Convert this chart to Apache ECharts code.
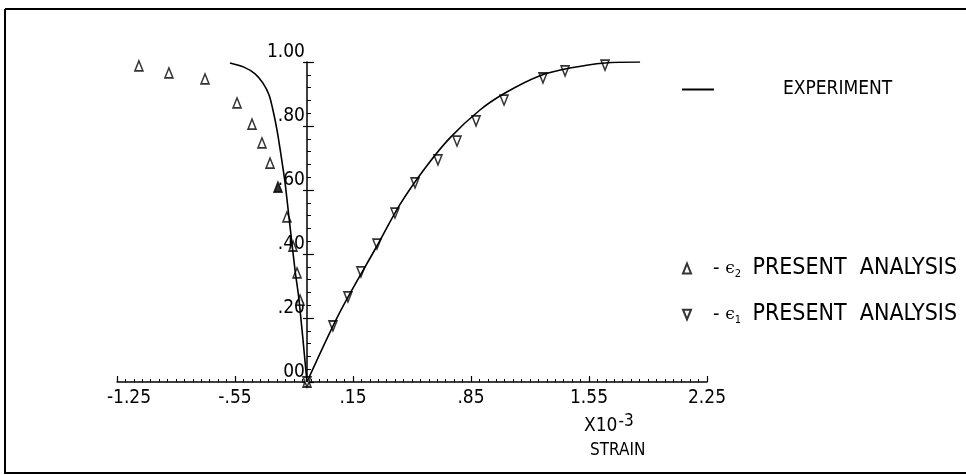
<!DOCTYPE html>
<html>
<head>
<meta charset="utf-8">
<script src="https://cdn.jsdelivr.net/npm/echarts@6/dist/echarts.min.js"></script>
<style>
  html, body { margin: 0; padding: 0; background: #fff; }
  #chart { width: 966px; height: 475px; }
</style>
</head>
<body>
<div id="chart"></div>
<script>
// Stress ratio vs strain (x10^-3)
const xTickLabels = ['-1.25', '-.55', '.15', '.85', '1.55', '2.25'];
const yTickLabels = ['00', '.20', '.40', '.60', '.80', '1.00'];

// Experimental curve, lateral strain branch (e2)
const expE2 = [
  [-0.58, 0.997], [-0.497, 0.984], [-0.431, 0.963], [-0.384, 0.934],
  [-0.348, 0.897], [-0.325, 0.85], [-0.301, 0.788], [-0.277, 0.709],
  [-0.253, 0.622], [-0.23, 0.516], [-0.194, 0.35], [-0.17, 0.256],
  [-0.123, 0]
];
// Experimental curve, axial strain branch (e1)
const expE1 = [
  [-0.123, 0], [0.073, 0.219], [0.292, 0.425], [0.429, 0.555],
  [0.577, 0.668], [0.725, 0.763], [0.903, 0.85], [1.052, 0.903],
  [1.259, 0.957], [1.437, 0.981], [1.645, 0.997], [1.853, 1.0]
];
// Present analysis, e2
const anaE2 = [
  [-1.12, 0.988], [-0.942, 0.966], [-0.728, 0.947], [-0.538, 0.872],
  [-0.449, 0.806], [-0.39, 0.747], [-0.342, 0.684], [-0.295, 0.609],
  [-0.242, 0.516], [-0.206, 0.425], [-0.182, 0.341], [-0.164, 0.256],
  [-0.123, 0]
];
// Present analysis, e1
const anaE1 = [
  [-0.123, 0], [0.031, 0.175], [0.12, 0.266], [0.197, 0.344],
  [0.292, 0.431], [0.399, 0.528], [0.518, 0.622], [0.654, 0.694],
  [0.767, 0.753], [0.88, 0.816], [1.046, 0.881], [1.277, 0.95],
  [1.408, 0.972], [1.645, 0.99]
];

const FONT = '"DejaVu Sans Condensed", "DejaVu Sans", sans-serif';
const INK = '#000';

const xMin = -1.25, xMax = 2.25, xStep = 0.7;
const yStep = 0.2;
const yAxisAt = -0.123;   // strain value where the vertical axis crosses

const gridLeft = 117, gridRight = 259, gridTop = 62, gridBottom = 93;
const plotW = 966 - gridLeft - gridRight;
const yAxisOffset = -(yAxisAt - xMin) / (xMax - xMin) * plotW;

function xLabel(v) {
  const i = Math.round((v - xMin) / xStep);
  if (xTickLabels[i] === undefined) return '';
  return i === 0 ? '{first|' + xTickLabels[i] + '}' : xTickLabels[i];
}
function yLabel(v) {
  const i = Math.round(v / yStep);
  return yTickLabels[i] !== undefined ? yTickLabels[i] : '';
}

const chart = echarts.init(document.getElementById('chart'), null, { renderer: 'canvas' });

const triStyle = { color: '#fff', borderColor: INK, borderWidth: 1.6 };
const downTri = 'path://M0,0 L10,0 L5,12 Z';
const legendRich = {
  d: { fontSize: 20, fontFamily: FONT },
  e: { fontSize: 17, fontFamily: 'DejaVu Serif' },
  s: { fontSize: 11, fontFamily: FONT, verticalAlign: 'bottom', padding: [9, 0, 0, 0] },
  t: { fontSize: 23, fontFamily: FONT }
};

// the one e2 result that prints as a solid marker
const anaE2Data = anaE2.map((p, i) => i === 7
  ? { value: p, itemStyle: { color: INK } }
  : p);

chart.setOption({
  backgroundColor: '#fff',
  animation: false,
  textStyle: { fontFamily: FONT, color: INK },
  grid: { left: gridLeft, right: gridRight, top: gridTop, bottom: gridBottom },
  xAxis: {
    type: 'value', min: xMin, max: xMax, interval: xStep,
    axisLine: { onZero: false, lineStyle: { color: INK, width: 1.5 } },
    axisTick: { inside: true, length: 6, lineStyle: { color: INK, width: 1.2 } },
    minorTick: { show: true, splitNumber: 14, length: 3, lineStyle: { color: INK, width: 1 } },
    splitLine: { show: false },
    axisLabel: {
      formatter: xLabel, fontFamily: FONT, fontSize: 19, color: INK, margin: 7,
      rich: { first: { fontSize: 19, fontFamily: FONT, padding: [0, 0, 0, 24] } }
    }
  },
  yAxis: [{
    type: 'value', min: 0, max: 1, interval: yStep,
    offset: yAxisOffset,
    axisLine: { show: true, onZero: false, lineStyle: { color: INK, width: 1.5 } },
    axisTick: { inside: true, length: 7, lineStyle: { color: INK, width: 1.2 } },
    minorTick: { show: true, splitNumber: 5, length: 4, lineStyle: { color: INK, width: 1 } },
    splitLine: { show: false },
    axisLabel: { formatter: yLabel, fontFamily: FONT, fontSize: 19, color: INK, margin: 2, verticalAlign: 'bottom' }
  }, {
    // outward stubs of the major ticks
    type: 'value', min: 0, max: 1, interval: yStep, position: 'left',
    offset: yAxisOffset,
    axisLine: { show: false, onZero: false },
    axisTick: { inside: false, length: 4, lineStyle: { color: INK, width: 1.2 } },
    axisLabel: { show: false },
    splitLine: { show: false }
  }],
  legend: [{
    left: 677, top: 75, itemWidth: 32, itemHeight: 2,
    data: [{ name: 'EXPERIMENT', icon: 'rect' }],
    itemStyle: { color: INK },
    textStyle: { fontFamily: FONT, fontSize: 19, color: INK, padding: [0, 0, 0, 64] }
  }, {
    left: 677, top: 252, itemWidth: 8, itemHeight: 10,
    data: [{ name: 'e2 PRESENT ANALYSIS', icon: 'triangle' }],
    formatter: () => '{d|-} {e|\u03F5}{s|2}  {t|PRESENT  ANALYSIS}',
    textStyle: { fontFamily: FONT, fontSize: 20, color: INK, padding: [0, 0, 0, 17], rich: legendRich }
  }, {
    left: 677, top: 298, itemWidth: 8, itemHeight: 10,
    data: [{ name: 'e1 PRESENT ANALYSIS', icon: downTri }],
    formatter: () => '{d|-} {e|\u03F5}{s|1}  {t|PRESENT  ANALYSIS}',
    textStyle: { fontFamily: FONT, fontSize: 20, color: INK, padding: [0, 0, 0, 17], rich: legendRich }
  }],
  graphic: [
    { type: 'line', shape: { x1: 5, y1: 9, x2: 966, y2: 9 }, style: { stroke: INK, lineWidth: 2 } },
    { type: 'line', shape: { x1: 5, y1: 9, x2: 5, y2: 474 }, style: { stroke: INK, lineWidth: 2 } },
    { type: 'line', shape: { x1: 5, y1: 473, x2: 966, y2: 473 }, style: { stroke: INK, lineWidth: 2 } },
    {
      type: 'text', left: 584, top: 413,
      style: {
        text: '{a|X10}{b|-3}', fontFamily: FONT, fill: INK,
        rich: { a: { fontSize: 19, fontFamily: FONT }, b: { fontSize: 17, fontFamily: FONT, verticalAlign: 'top', padding: [0, 0, 10, 1] } }
      }
    },
    { type: 'text', left: 590, top: 442, style: { text: 'STRAIN', fontFamily: FONT, fontSize: 17, fill: INK } }
  ],
  series: [
    {
      name: 'EXPERIMENT', type: 'line', data: expE2, smooth: 0.3, showSymbol: false,
      lineStyle: { color: INK, width: 1.6 }, itemStyle: { color: INK }
    },
    {
      name: 'EXPERIMENT', type: 'line', data: expE1, smooth: 0.3, showSymbol: false,
      lineStyle: { color: INK, width: 1.6 }, itemStyle: { color: INK }
    },
    {
      name: 'e2 PRESENT ANALYSIS', type: 'scatter', data: anaE2Data,
      symbol: 'triangle', symbolSize: [8, 10], itemStyle: triStyle
    },
    {
      name: 'e1 PRESENT ANALYSIS', type: 'scatter', data: anaE1,
      symbol: downTri, symbolSize: [8, 10], itemStyle: triStyle
    }
  ]
});
</script>
</body>
</html>
